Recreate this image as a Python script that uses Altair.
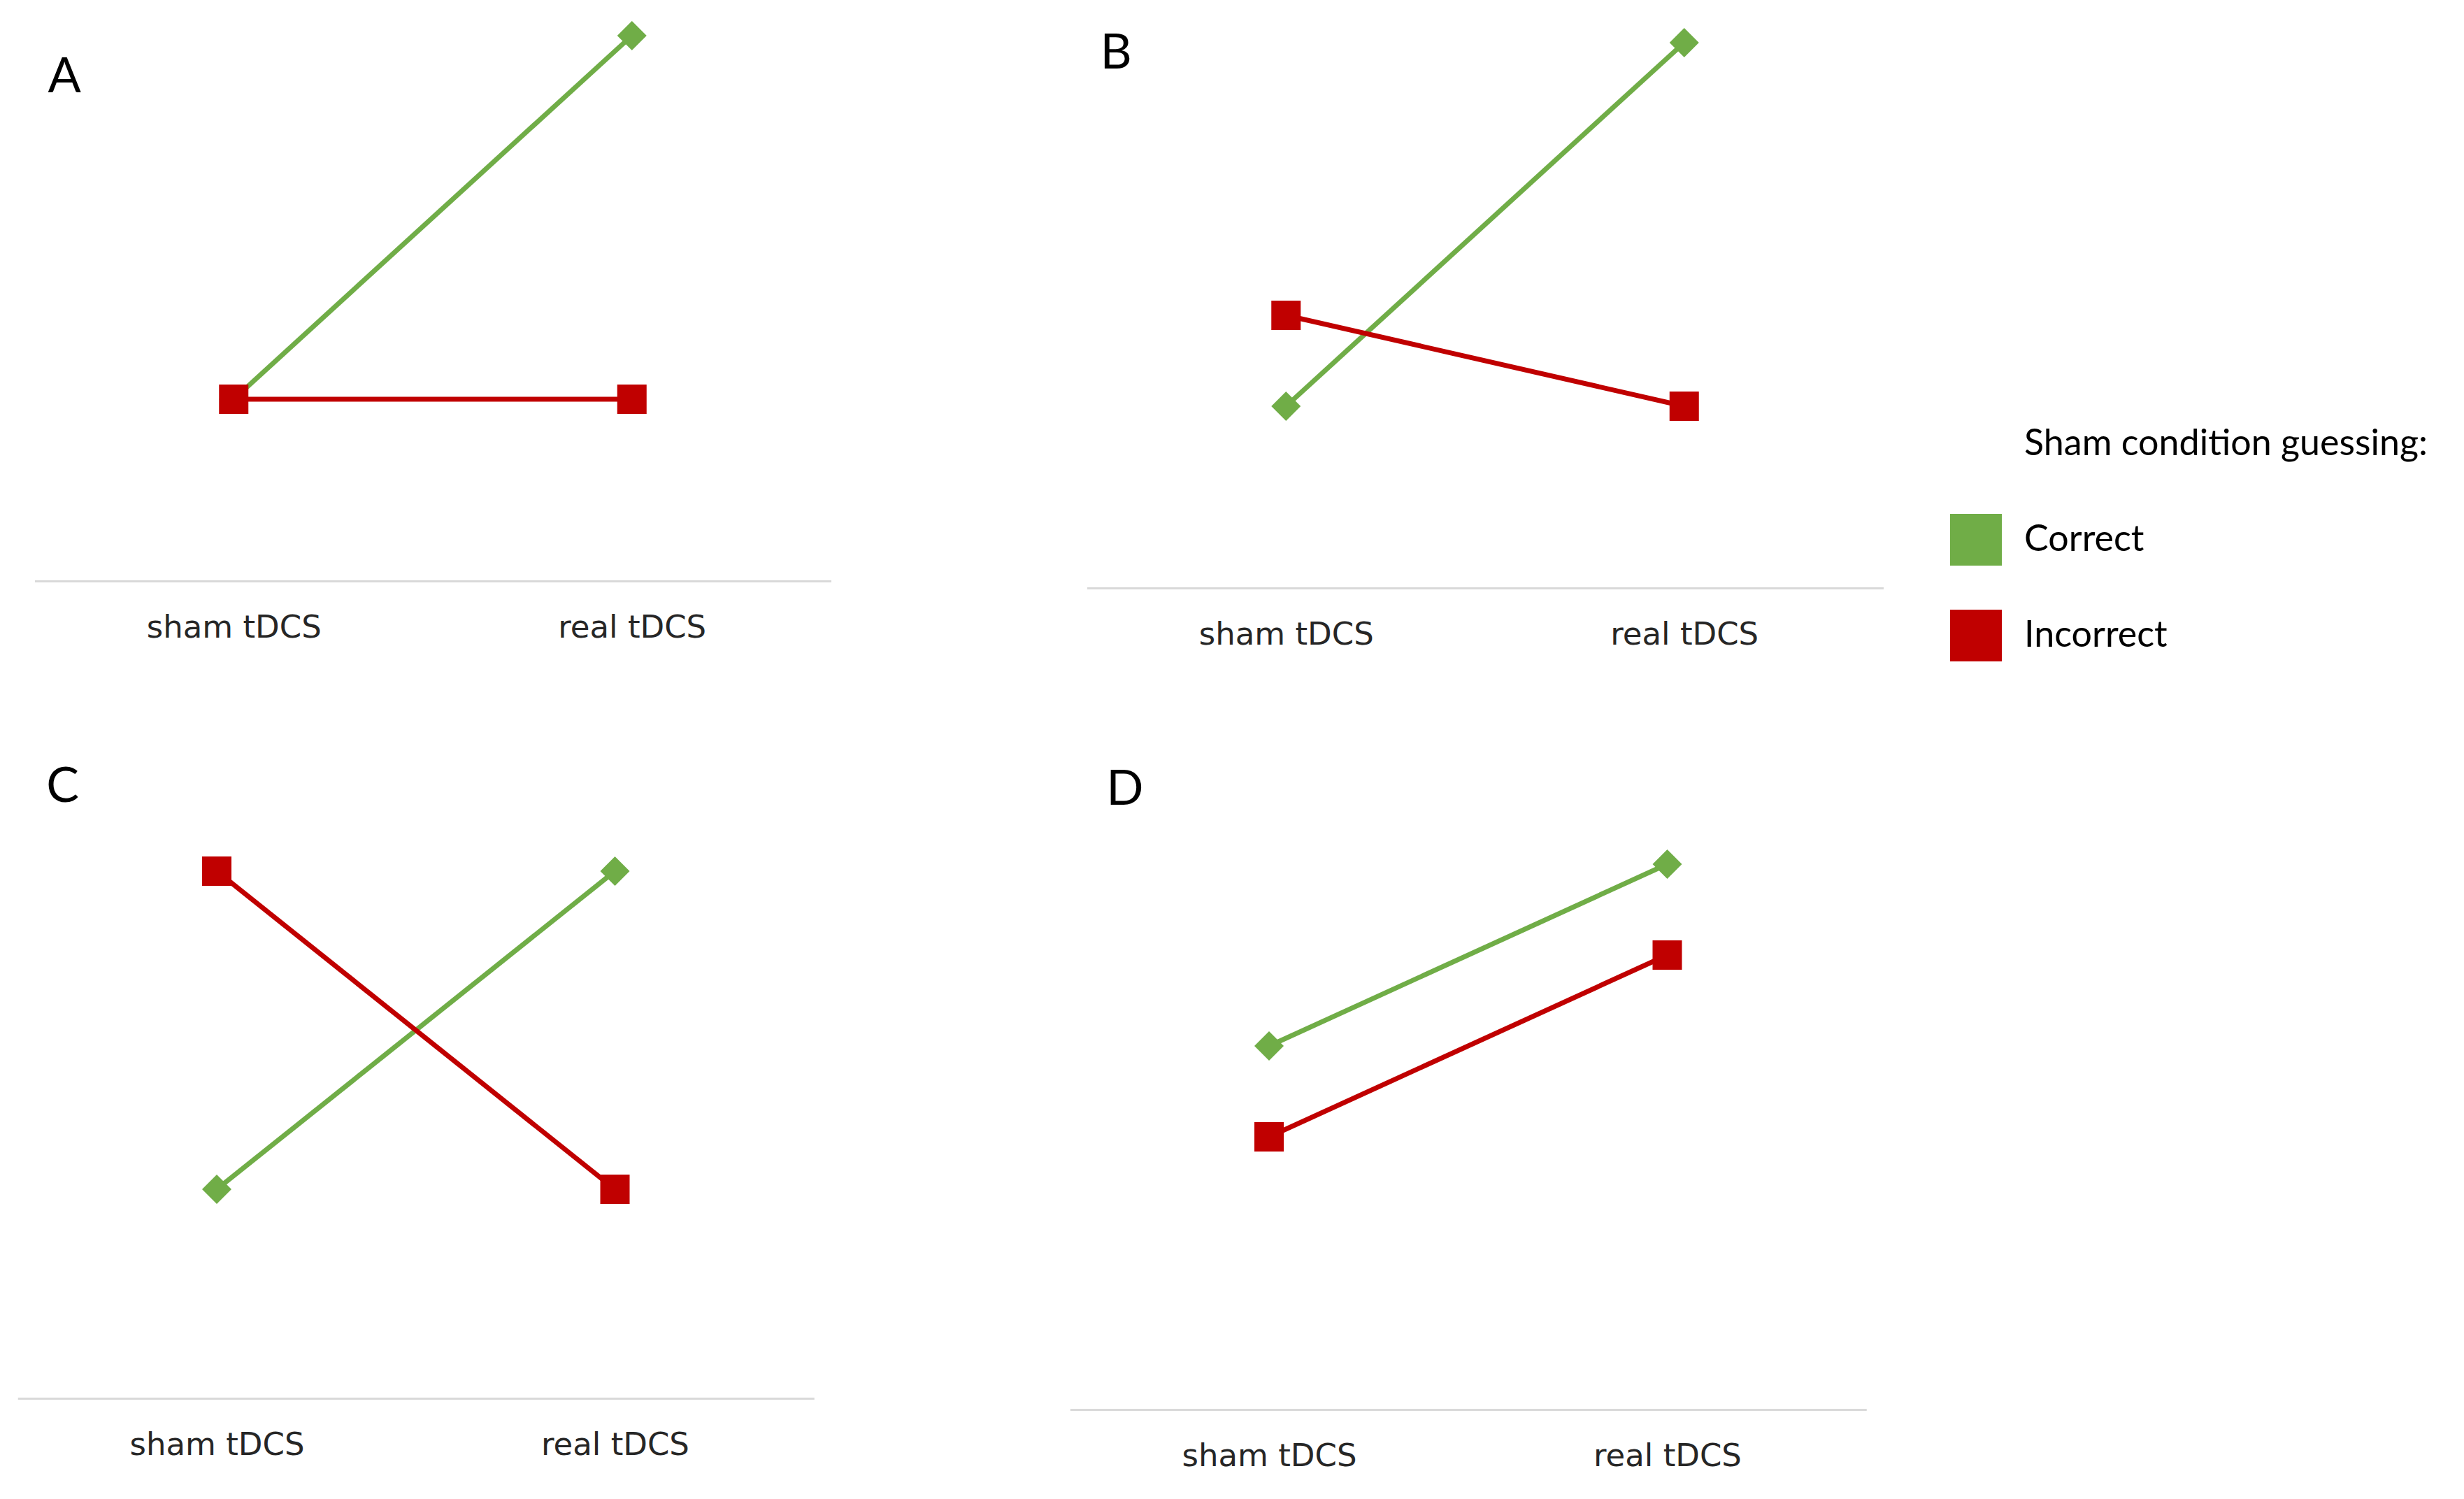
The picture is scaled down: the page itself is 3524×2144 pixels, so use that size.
import altair as alt
import pandas as pd

# ---- data ----
conditions = ["sham tDCS", "real tDCS"]
groups = ["Correct", "Incorrect"]
group_colors = ["#70AD47", "#C00000"]
group_shapes = ["diamond", "square"]

panel_names = ["A", "B", "C", "D"]
correct_values = {
    "A": [2.0, 6.0],
    "B": [2.0, 6.0],
    "C": [2.3, 5.8],
    "D": [4.0, 6.0],
}
incorrect_values = {
    "A": [2.0, 2.0],
    "B": [3.0, 2.0],
    "C": [5.8, 2.3],
    "D": [3.0, 5.0],
}
legend_title = "Sham condition guessing:"

# ---- layout (pixels) ----
PX_PER_UNIT = 130.0
PANEL_W = 1139
panel_heights = {"A": 823, "B": 833, "C": 970, "D": 986}
letter_dx = {"A": 19, "B": 19, "C": 41, "D": 52}
letter_dy = {"A": 139, "B": 105, "C": 132, "D": 136}

FONT = "Lato"


def panel(name, right_pad=0):
    rows = []
    for i, c in enumerate(conditions):
        rows.append({"condition": c, "guess": "Correct", "value": correct_values[name][i], "order": 0})
    for i, c in enumerate(conditions):
        rows.append({"condition": c, "guess": "Incorrect", "value": incorrect_values[name][i], "order": 1})
    df = pd.DataFrame(rows)
    h = panel_heights[name]
    ymax = h / PX_PER_UNIT

    x = alt.X(
        "condition:N",
        sort=conditions,
        scale=alt.Scale(type="point", domain=conditions, padding=0.5),
        axis=alt.Axis(
            title=None,
            ticks=False,
            grid=False,
            domainColor="#D9D9D9",
            domainWidth=3,
            labelFont="DejaVu Sans",
            labelFontSize=45,
            labelColor="#262626",
            labelPadding=44,
            labelAngle=0,
            labelLimit=2000,
        ),
    )
    if right_pad:
        yaxis = alt.Axis(
            orient="right", title=None, labels=False, domain=False, grid=False,
            ticks=True, tickSize=right_pad, tickColor="transparent", tickCount=1,
        )
    else:
        yaxis = None
    y = alt.Y("value:Q", scale=alt.Scale(domain=[0, ymax], nice=False, zero=True), axis=yaxis)

    base = alt.Chart(df)
    lines = base.mark_line(strokeWidth=7).encode(
        x=x,
        y=y,
        stroke=alt.Stroke("guess:N", scale=alt.Scale(range=group_colors), legend=None),
        detail="guess:N",
    )
    points = base.mark_point(filled=True, opacity=1, size=1764, strokeWidth=0).encode(
        x=x,
        y=y,
        color=alt.Color(
            "guess:N",
            scale=alt.Scale(domain=groups, range=group_colors),
            legend=alt.Legend(
                title=None,
                orient="none",
                legendX=2764,
                legendY=727,
                padding=0,
                labelFont=FONT,
                labelFontSize=52,
                labelColor="#000000",
                labelLimit=1200,
                symbolType="square",
                symbolSize=5476,
                symbolStrokeWidth=0,
                labelOffset=32,
                rowPadding=63,
            ),
        ),
        shape=alt.Shape("guess:N", scale=alt.Scale(range=group_shapes), legend=None),
        order=alt.Order("order:Q"),
    )
    return alt.layer(lines, points).properties(
        width=PANEL_W,
        height=h,
        title=alt.TitleParams(
            text=name,
            anchor="start",
            frame="group",
            orient="top",
            offset=0,
            dx=letter_dx[name],
            dy=letter_dy[name],
            baseline="top",
            align="left",
            font=FONT,
            fontSize=70,
            fontWeight="normal",
            color="#000000",
        ),
    )


row1 = alt.hconcat(panel("A"), panel("B"), spacing=366)
row2 = alt.hconcat(panel("C"), panel("D", right_pad=48), spacing=366)

chart = (
    alt.vconcat(row1, row2, spacing=100, center=True)
    .properties(
        padding={"left": 17, "top": 0, "right": 10, "bottom": 20},
        background="white",
        title=alt.TitleParams(
            text=legend_title,
            anchor="start",
            frame="group",
            orient="top",
            offset=0,
            dx=2870,
            dy=654,
            baseline="top",
            align="left",
            font=FONT,
            fontSize=52,
            fontWeight="normal",
            color="#000000",
        ),
    )
    .configure_view(stroke=None)
)

chart.save("out.html", embed_options={"renderer": "svg", "actions": False})
